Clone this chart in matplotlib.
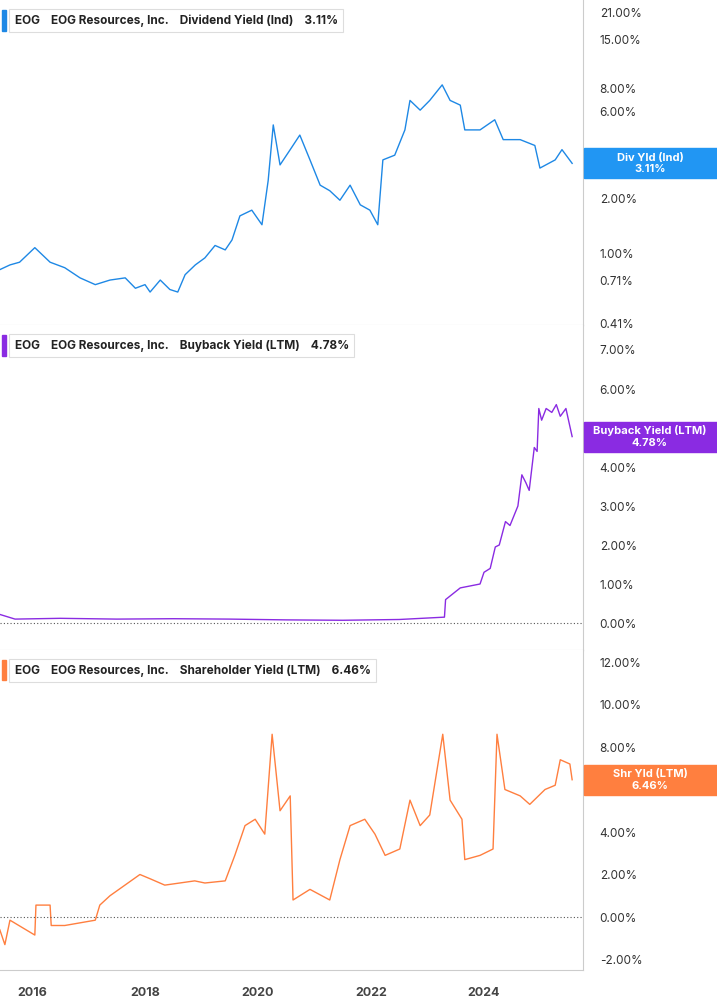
import numpy as np
import matplotlib.pyplot as plt
from matplotlib.ticker import FixedLocator, FixedFormatter, NullLocator

plt.rcParams['font.family'] = 'Inter'

div_years = [2015.43, 2015.61, 2015.78, 2016.05, 2016.32, 2016.58, 2016.85, 2017.12, 2017.38, 2017.65,
             2017.83, 2018.0, 2018.09, 2018.27, 2018.44, 2018.58, 2018.71, 2018.89, 2019.06, 2019.24,
             2019.42, 2019.54, 2019.68, 2019.89, 2020.07, 2020.18, 2020.27, 2020.39, 2020.57, 2020.74,
             2020.92, 2021.1, 2021.27, 2021.45, 2021.63, 2021.81, 2021.98, 2022.12, 2022.21, 2022.42,
             2022.6, 2022.69, 2022.87, 2023.04, 2023.26, 2023.4, 2023.58, 2023.66, 2023.93, 2024.19,
             2024.34, 2024.64, 2024.9, 2024.99, 2025.26, 2025.38, 2025.56]
div_vals = [0.81, 0.86, 0.89, 1.07, 0.89, 0.83, 0.73, 0.67, 0.71, 0.73,
            0.64, 0.67, 0.61, 0.71, 0.63, 0.61, 0.76, 0.86, 0.94, 1.10,
            1.04, 1.18, 1.60, 1.72, 1.43, 2.50, 5.06, 3.05, 3.70, 4.45,
            3.25, 2.36, 2.20, 1.95, 2.36, 1.84, 1.72, 1.43, 3.25, 3.45,
            4.75, 6.90, 6.10, 6.90, 8.40, 6.90, 6.50, 4.75, 4.75, 5.40,
            4.20, 4.20, 3.90, 2.93, 3.25, 3.70, 3.11]

bb_years = [2015.43, 2015.7, 2016.5, 2017.5, 2018.5, 2019.5, 2020.5, 2021.5, 2022.5, 2023.3,
            2023.32, 2023.58, 2023.93, 2024.0, 2024.11, 2024.2, 2024.27, 2024.38, 2024.46, 2024.6,
            2024.67, 2024.74, 2024.8, 2024.89, 2024.94, 2024.97, 2025.02, 2025.1, 2025.2, 2025.28,
            2025.35, 2025.45, 2025.56]
bb_vals = [0.22, 0.10, 0.12, 0.10, 0.11, 0.10, 0.08, 0.07, 0.09, 0.15,
           0.60, 0.90, 1.00, 1.30, 1.40, 1.95, 2.00, 2.60, 2.50, 3.00,
           3.80, 3.60, 3.40, 4.50, 4.40, 5.50, 5.20, 5.50, 5.40, 5.60,
           5.30, 5.50, 4.78]

sh_years = [2015.43, 2015.52, 2015.61, 2016.05, 2016.07, 2016.32, 2016.34, 2016.58, 2017.12, 2017.2,
            2017.38, 2017.91, 2018.09, 2018.35, 2018.88, 2019.06, 2019.42, 2019.59, 2019.77, 2019.95,
            2020.12, 2020.25, 2020.39, 2020.57, 2020.62, 2020.92, 2021.27, 2021.45, 2021.63, 2021.89,
            2022.07, 2022.25, 2022.51, 2022.69, 2022.87, 2023.04, 2023.27, 2023.4, 2023.61, 2023.66,
            2023.93, 2024.16, 2024.23, 2024.37, 2024.64, 2024.81, 2025.08, 2025.26, 2025.35, 2025.52,
            2025.56]
sh_vals = [-0.6, -1.3, -0.15, -0.85, 0.56, 0.56, -0.4, -0.4, -0.15, 0.56,
           1.0, 2.0, 1.8, 1.5, 1.7, 1.6, 1.7, 2.9, 4.3, 4.6,
           3.9, 8.6, 5.0, 5.7, 0.8, 1.3, 0.8, 2.7, 4.3, 4.6,
           3.9, 2.9, 3.2, 5.5, 4.3, 4.8, 8.6, 5.5, 4.6, 2.7,
           2.9, 3.2, 8.6, 6.0, 5.7, 5.3, 6.0, 6.2, 7.4, 7.2,
           6.46]

# ticks hidden behind the value boxes in the reference are left out
div_ticks = [0.41, 0.71, 1.0, 2.0, 6.0, 8.0, 15.0, 21.0]
bb_ticks = [0, 1, 2, 3, 4, 6, 7]
sh_ticks = [-2, 0, 2, 4, 8, 10, 12]
year_ticks = [2016, 2018, 2020, 2022, 2024]

W, H = 717, 1005
fig = plt.figure(figsize=(W / 100, H / 100), dpi=100)
x0, x1 = 2016 - 32 / 56.5, 2016 + (583 - 32) / 56.5

def make_ax(top, bottom):
    ax = fig.add_axes([0, 1 - bottom / H, 583 / W, (bottom - top) / H])
    ax.set_xlim(x0, x1)
    for s in ['left', 'top']:
        ax.spines[s].set_visible(False)
    ax.spines['right'].set_color('#cccccc')
    ax.spines['bottom'].set_color('#cccccc')
    ax.yaxis.tick_right()
    ax.tick_params(axis='y', length=0, labelsize=8.5, colors='#333333', pad=12)
    ax.tick_params(axis='x', length=0, labelbottom=False)
    ax.xaxis.set_major_locator(NullLocator())
    return ax

def header(ax, name, val, color):
    ax.text(0.025, 0.955, 'EOG    EOG Resources, Inc.    %s    %s' % (name, val),
            transform=ax.transAxes, fontsize=8.5, fontweight='bold', va='top', color='#222222',
            bbox=dict(boxstyle='square,pad=0.45', fc='white', ec='#dddddd', lw=0.8))
    ax.add_patch(plt.Rectangle((0.004, 0.905), 0.006, 0.065, transform=ax.transAxes,
                               color=color, clip_on=False))

def right_label(ax, y, text, color):
    disp = ax.transData.transform((x1, y))
    fy = fig.transFigure.inverted().transform(disp)[1]
    fig.patches.append(plt.Rectangle((584 / W, fy - 15 / H), (W - 584) / W, 30 / H,
                                     transform=fig.transFigure, color=color, zorder=5))
    fig.text(650 / W, fy, text, ha='center', va='center', fontsize=8, fontweight='bold',
             color='white', multialignment='center', zorder=6)

# dividend yield
ax1 = make_ax(0, 325)
ax1.plot(div_years, div_vals, color='#1e88e5', lw=1)
ax1.set_yscale('log')
ax1.set_ylim(np.exp(-(325 - 253) / 79), np.exp((253 - 0) / 79))
ax1.yaxis.set_major_locator(FixedLocator(div_ticks))
ax1.yaxis.set_major_formatter(FixedFormatter(['%.2f%%' % v for v in div_ticks]))
ax1.yaxis.set_minor_locator(NullLocator())
header(ax1, 'Dividend Yield (Ind)', '3.11%', '#1e88e5')

# buyback yield
ax2 = make_ax(325, 650)
ax2.plot(bb_years, bb_vals, color='#8a2be2', lw=1)
ax2.set_ylim(-(650 - 623) / 39, (623 - 325) / 39)
ax2.yaxis.set_major_locator(FixedLocator(bb_ticks))
ax2.yaxis.set_major_formatter(FixedFormatter(['%.2f%%' % v for v in bb_ticks]))
ax2.axhline(0, color='#555555', lw=0.8, ls=(0, (1, 2)))
header(ax2, 'Buyback Yield (LTM)', '4.78%', '#8a2be2')

# shareholder yield
ax3 = make_ax(650, 970)
ax3.plot(sh_years, sh_vals, color='#ff7f3f', lw=1)
ax3.set_ylim(-(970 - 917) / 21.25, (917 - 650) / 21.25)
ax3.yaxis.set_major_locator(FixedLocator(sh_ticks))
ax3.yaxis.set_major_formatter(FixedFormatter(['%.2f%%' % v for v in sh_ticks]))
ax3.axhline(0, color='#555555', lw=0.8, ls=(0, (1, 2)))
header(ax3, 'Shareholder Yield (LTM)', '6.46%', '#ff7f3f')
ax3.xaxis.set_major_locator(FixedLocator(year_ticks))
ax3.xaxis.set_major_formatter(FixedFormatter([str(y) for y in year_ticks]))
ax3.tick_params(axis='x', labelbottom=True, labelsize=9, colors='#444444', pad=12)
for lbl in ax3.get_xticklabels():
    lbl.set_fontweight('bold')

right_label(ax1, 3.11, 'Div Yld (Ind)\n3.11%', '#2196f3')
right_label(ax2, 4.78, 'Buyback Yield (LTM)\n4.78%', '#8a2be2')
right_label(ax3, 6.46, 'Shr Yld (LTM)\n6.46%', '#ff7f3f')

fig.savefig('out.png', dpi=100, facecolor='white')
